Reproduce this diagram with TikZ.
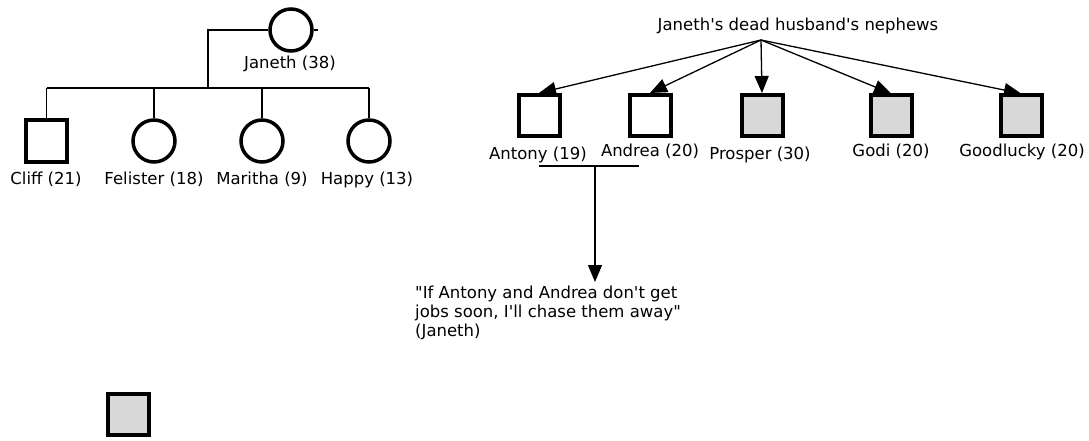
\documentclass[tikz,border=0pt]{standalone}
\usepackage{fontspec}
\newfontfamily\pedfont{DejaVu Sans}
\usetikzlibrary{arrows.meta}
\definecolor{shadegray}{HTML}{D8D8D8}

\begin{document}
\begin{tikzpicture}[x=1pt, y=-1pt,
    male/.style={draw, line width=4pt, minimum size=41pt, inner sep=0pt},
    female/.style={draw, circle, line width=3.5pt, minimum size=42pt, inner sep=0pt},
    nametag/.style={anchor=base, inner sep=0pt},
    link/.style={line width=1.3pt},
    pointer/.style={line width=1.3pt, -{Triangle[length=17pt, width=14pt]}}]
    \pedfont\fontsize{16.5}{19}\selectfont
    \useasboundingbox (0, 0) rectangle (1089, 441);

    % Janeth and her children
    \node (janeth) at (291, 30) [female] {};
    \node (janethname) at (290, 69) [nametag] {Janeth (38)};
    \draw [link] (janeth.east) -- ++(4, 0);

    \node (cliff)    at (46.5, 141) [male] {};
    \node (felister) at (154,  141) [female] {};
    \node (maritha)  at (262,  141) [female] {};
    \node (happy)    at (369,  141) [female] {};
    \node (cliffname)    at (46,  184) [nametag] {Cliff (21)};
    \node (felistername) at (154, 184) [nametag] {Felister (18)};
    \node (marithaname)  at (262, 184) [nametag] {Maritha (9)};
    \node (happyname)    at (367, 184) [nametag] {Happy (13)};

    \coordinate (sibbar) at (208, 88);
    \draw [link] (janeth.west) -| (sibbar);
    \draw [link] (cliff.north |- sibbar) -- (happy.north |- sibbar);
    \foreach \kid in {cliff, felister, maritha, happy}
        \draw [link] (\kid.north |- sibbar) -- (\kid.north);

    % the nephews
    \node (nephews) at (798, 31) [nametag] {Janeth's dead husband's nephews};
    \coordinate (fan) at (761, 40);

    \node (antony)    at (539,  115.5) [male] {};
    \node (andrea)    at (650,  115.5) [male] {};
    \node (prosper)   at (762,  115.5) [male, fill=shadegray] {};
    \node (godi)      at (891,  116)   [male, fill=shadegray] {};
    \node (goodlucky) at (1021, 116)   [male, fill=shadegray] {};
    \node (antonyname)    at (538,  160) [nametag] {Antony (19)};
    \node (andreaname)    at (650,  156) [nametag] {Andrea (20)};
    \node (prospername)   at (760,  160) [nametag] {Prosper (30)};
    \node (godiname)      at (891,  156) [nametag] {Godi (20)};
    \node (goodluckyname) at (1022, 156) [nametag] {Goodlucky (20)};

    \foreach \n in {antony, andrea, prosper, godi, goodlucky}
        \draw [pointer] (fan) -- (\n.north);

    % Antony and Andrea -> Janeth's threat
    \coordinate (pairleft)  at (539, 166);
    \coordinate (pairright) at (639, 166);
    \coordinate (pairmid)   at (595, 166);
    \draw [link] (pairleft) -- (pairright);

    \node (quote) at (415, 286) [anchor=north west, align=left, inner sep=0pt]
        {"If Antony and Andrea don't get\\jobs soon, I'll chase them away"\\(Janeth)};
    \draw [pointer, shorten >=4pt] (pairmid) -- (pairmid |- quote.north);

    % legend
    \node (legend) at (128, 414) [male, fill=shadegray] {};
\end{tikzpicture}
\end{document}
